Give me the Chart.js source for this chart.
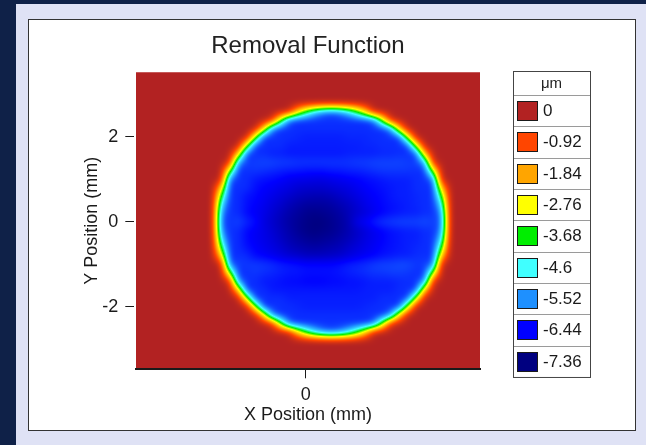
<!DOCTYPE html>
<html>
  <head>
    <meta charset="UTF-8" />
    <title>Removal Function</title>
    <script src="https://cdn.jsdelivr.net/npm/chart.js"></script>
    <style>
      body {
        margin: 0;
        width: 646px;
        height: 445px;
        overflow: hidden;
        background-color: #0f2148;
        font-family: Arial, "Liberation Sans", sans-serif;
      }
      .panel {
        position: absolute;
        left: 16px;
        top: 4px;
        right: 0;
        bottom: 0;
        background-color: #dfe2f5;
      }
      .card {
        position: absolute;
        left: 28px;
        top: 19px;
        width: 606px;
        height: 410px;
        background-color: #ffffff;
        border: 1px solid #333;
      }
      canvas {
        position: absolute;
        left: 0;
        top: 0;
      }
    </style>
  </head>
  <body>
    <div class="panel"></div>
    <div class="card"></div>
    <canvas id="chart" width="646" height="445"></canvas>

    <script>
      const FONT = "Arial, 'Liberation Sans', sans-serif";

      // sample positions of the measured surface (mm)
      const xNodes = [-2.4, -2.2, -2.0, -1.8, -1.6, -1.4, -1.2, -1.0, -0.8, -0.6, -0.4, -0.2, 0, 0.2, 0.4, 0.6,
        0.8, 1.0, 1.2, 1.4, 1.6, 1.8, 2.0, 2.2, 2.4, 2.6, 2.8, 3.0, 3.2, 3.4, 3.6];
      const yNodes = [3.0, 2.8, 2.6, 2.4, 2.2, 2.0, 1.8, 1.6, 1.4, 1.2, 1.0, 0.8, 0.6, 0.4, 0.2, 0,
        -0.2, -0.4, -0.6, -0.8, -1.0, -1.2, -1.4, -1.6, -1.8, -2.0, -2.2, -2.4, -2.6, -2.8, -3.0];

      // removal depth (um), one row per yNodes entry, one column per xNodes entry
      const depth = [
        [0,0,0,0,0,0,0,0,0,0,0,0,0,0,0,0,0,0,0,0,0,0,0,0,0,0,0,0,0,0,0],
        [0,0,0,0,0,0,0,0,0,0,0,0,0,0,0,0,0,0,0,0,0,0,0,0,0,0,0,0,0,0,0],
        [0,0,0,0,0,0,0,0,0,0,-0.15,-2.15,-3.75,-4.9,-5.6,-5.85,-5.6,-4.9,-3.75,-2.15,-0.15,0,0,0,0,0,0,0,0,0,0],
        [0,0,0,0,0,0,0,0,-0.35,-3.3,-5.85,-6.15,-6.15,-6.15,-6.15,-6.15,-6.15,-6.15,-6.15,-6.15,-5.85,-3.3,-0.35,0,0,0,0,0,0,0,0],
        [0,0,0,0,0,0,0,-2.15,-5.6,-6.15,-6.15,-6.15,-6.15,-6.15,-6.15,-6.15,-6.15,-6.15,-6.15,-6.15,-6.15,-6.15,-5.6,-2.15,0,0,0,0,0,0,0],
        [0,0,0,0,0,0,-3.05,-6.15,-6.15,-6.15,-6.15,-6.2,-6.25,-6.25,-6.25,-6.25,-6.25,-6.2,-6.2,-6.2,-6.15,-6.15,-6.15,-6.15,-3.05,0,0,0,0,0,0],
        [0,0,0,0,0,-3.05,-6.15,-6.15,-6.15,-6.15,-6.25,-6.25,-6.25,-6.25,-6.25,-6.25,-6.25,-6.25,-6.25,-6.2,-6.2,-6.15,-6.15,-6.15,-6.15,-3.05,0,0,0,0,0],
        [0,0,0,0,-2.15,-6.15,-6.15,-6.15,-6.25,-6.25,-6.3,-6.3,-6.3,-6.3,-6.3,-6.3,-6.3,-6.25,-6.25,-6.25,-6.25,-6.2,-6.2,-6.15,-6.15,-6.15,-2.15,0,0,0,0],
        [0,0,0,-0.35,-5.5,-6.05,-6.05,-6.0,-6.0,-6.05,-6.05,-6.1,-6.1,-6.1,-6.1,-6.1,-6.1,-6.1,-6.05,-6.05,-6.0,-6.0,-6.0,-6.0,-6.05,-6.05,-5.5,-0.35,0,0,0],
        [0,0,0,-3.3,-6.15,-6.15,-6.1,-6.15,-6.2,-6.25,-6.3,-6.3,-6.35,-6.35,-6.35,-6.3,-6.3,-6.25,-6.25,-6.2,-6.15,-6.1,-6.1,-6.1,-6.1,-6.15,-6.15,-3.3,0,0,0],
        [0,0,-0.15,-5.85,-6.15,-6.15,-6.3,-6.35,-6.4,-6.45,-6.55,-6.6,-6.6,-6.65,-6.65,-6.6,-6.55,-6.5,-6.45,-6.4,-6.35,-6.3,-6.25,-6.25,-6.25,-6.15,-6.15,-5.85,-0.15,0,0],
        [0,0,-2.15,-6.15,-6.15,-6.15,-6.35,-6.45,-6.5,-6.6,-6.65,-6.75,-6.8,-6.8,-6.8,-6.75,-6.7,-6.65,-6.55,-6.45,-6.4,-6.35,-6.3,-6.25,-6.25,-6.15,-6.15,-6.15,-2.15,0,0],
        [0,0,-3.75,-6.15,-6.15,-6.35,-6.4,-6.5,-6.6,-6.7,-6.8,-6.9,-6.95,-7.0,-7.0,-6.95,-6.85,-6.75,-6.65,-6.55,-6.45,-6.4,-6.3,-6.25,-6.25,-6.2,-6.15,-6.15,-3.75,0,0],
        [0,0,-4.9,-6.15,-6.15,-6.35,-6.45,-6.55,-6.7,-6.8,-6.95,-7.05,-7.15,-7.15,-7.15,-7.1,-7.0,-6.9,-6.75,-6.6,-6.5,-6.4,-6.35,-6.3,-6.25,-6.2,-6.15,-6.15,-4.9,0,0],
        [0,0,-5.6,-6.15,-6.15,-6.4,-6.5,-6.6,-6.75,-6.9,-7.05,-7.15,-7.25,-7.3,-7.25,-7.2,-7.1,-6.95,-6.8,-6.7,-6.55,-6.45,-6.35,-6.3,-6.25,-6.25,-6.15,-6.15,-5.6,0,0],
        [0,0,-5.85,-6.15,-6.0,-6.2,-6.35,-6.65,-6.8,-6.95,-7.1,-7.2,-7.3,-7.35,-7.35,-7.25,-7.15,-7.0,-6.6,-6.45,-6.25,-6.1,-6.05,-6.0,-6.0,-6.0,-5.95,-6.05,-5.85,0,0],
        [0,0,-5.6,-6.15,-6.15,-6.4,-6.5,-6.6,-6.75,-6.9,-7.05,-7.2,-7.3,-7.35,-7.3,-7.25,-7.15,-7.0,-6.85,-6.7,-6.55,-6.45,-6.35,-6.3,-6.25,-6.25,-6.15,-6.15,-5.6,0,0],
        [0,0,-4.9,-6.15,-6.15,-6.4,-6.5,-6.6,-6.7,-6.85,-7.0,-7.1,-7.2,-7.25,-7.2,-7.15,-7.05,-6.95,-6.8,-6.65,-6.55,-6.45,-6.35,-6.3,-6.25,-6.25,-6.15,-6.15,-4.9,0,0],
        [0,0,-3.75,-6.15,-6.15,-6.35,-6.45,-6.55,-6.65,-6.75,-6.9,-7.0,-7.05,-7.1,-7.05,-7.0,-6.95,-6.8,-6.7,-6.6,-6.5,-6.4,-6.35,-6.3,-6.25,-6.2,-6.15,-6.15,-3.75,0,0],
        [0,0,-2.15,-6.15,-6.15,-6.15,-6.4,-6.45,-6.55,-6.65,-6.75,-6.8,-6.9,-6.9,-6.9,-6.85,-6.8,-6.7,-6.6,-6.5,-6.45,-6.35,-6.3,-6.25,-6.25,-6.15,-6.15,-6.15,-2.15,0,0],
        [0,0,-0.15,-5.85,-6.05,-6.1,-6.05,-6.1,-6.15,-6.25,-6.3,-6.35,-6.4,-6.4,-6.4,-6.4,-6.35,-6.25,-6.2,-6.15,-6.05,-6.0,-6.0,-5.95,-5.95,-6.1,-6.05,-5.85,-0.15,0,0],
        [0,0,0,-3.3,-6.15,-6.15,-6.1,-6.15,-6.2,-6.25,-6.3,-6.3,-6.35,-6.35,-6.35,-6.35,-6.3,-6.25,-6.2,-6.15,-6.1,-6.1,-6.05,-6.05,-6.1,-6.15,-6.15,-3.3,0,0,0],
        [0,0,0,-0.35,-5.6,-6.15,-6.15,-6.3,-6.3,-6.35,-6.4,-6.4,-6.45,-6.45,-6.45,-6.4,-6.4,-6.35,-6.35,-6.3,-6.25,-6.25,-6.25,-6.2,-6.15,-6.15,-5.6,-0.35,0,0,0],
        [0,0,0,0,-2.15,-6.15,-6.15,-6.15,-6.3,-6.3,-6.3,-6.3,-6.3,-6.3,-6.3,-6.3,-6.3,-6.3,-6.3,-6.25,-6.25,-6.25,-6.25,-6.15,-6.15,-6.15,-2.15,0,0,0,0],
        [0,0,0,0,0,-3.05,-6.15,-6.15,-6.15,-6.15,-6.25,-6.25,-6.25,-6.25,-6.25,-6.25,-6.25,-6.25,-6.25,-6.25,-6.25,-6.15,-6.15,-6.15,-6.15,-3.05,0,0,0,0,0],
        [0,0,0,0,0,0,-3.05,-6.15,-6.15,-6.15,-6.15,-6.2,-6.25,-6.25,-6.25,-6.25,-6.25,-6.25,-6.25,-6.2,-6.15,-6.15,-6.15,-6.15,-3.05,0,0,0,0,0,0],
        [0,0,0,0,0,0,0,-2.15,-5.6,-6.15,-6.15,-6.15,-6.15,-6.15,-6.15,-6.15,-6.15,-6.15,-6.15,-6.15,-6.15,-6.15,-5.6,-2.15,0,0,0,0,0,0,0],
        [0,0,0,0,0,0,0,0,-0.35,-3.3,-5.85,-6.15,-6.15,-6.15,-6.15,-6.15,-6.15,-6.15,-6.15,-6.15,-5.85,-3.3,-0.35,0,0,0,0,0,0,0,0],
        [0,0,0,0,0,0,0,0,0,0,-0.15,-2.15,-3.75,-4.9,-5.6,-5.85,-5.6,-4.9,-3.75,-2.15,-0.15,0,0,0,0,0,0,0,0,0,0],
        [0,0,0,0,0,0,0,0,0,0,0,0,0,0,0,0,0,0,0,0,0,0,0,0,0,0,0,0,0,0,0],
        [0,0,0,0,0,0,0,0,0,0,0,0,0,0,0,0,0,0,0,0,0,0,0,0,0,0,0,0,0,0,0],
      ];

      // colour scale
      const legendTitle = "μm";
      const legendLevels = [0, -0.92, -1.84, -2.76, -3.68, -4.6, -5.52, -6.44, -7.36];
      const legendColors = ["#b22222", "#ff4500", "#ffa500", "#ffff00", "#00ee00", "#40ffff", "#1e90ff", "#0000ff", "#000080"];

      const xTicks = [0];
      const yTicks = [-2, 0, 2];

      const levelRgb = legendColors.map((c) => [
        parseInt(c.slice(1, 3), 16),
        parseInt(c.slice(3, 5), 16),
        parseInt(c.slice(5, 7), 16),
      ]);

      function depthColor(v) {
        const n = legendLevels.length;
        if (v >= legendLevels[0]) return levelRgb[0];
        if (v <= legendLevels[n - 1]) return levelRgb[n - 1];
        let k = 0;
        while (v < legendLevels[k + 1]) k++;
        const t = (legendLevels[k] - v) / (legendLevels[k] - legendLevels[k + 1]);
        const a = levelRgb[k], b = levelRgb[k + 1];
        return [a[0] + (b[0] - a[0]) * t, a[1] + (b[1] - a[1]) * t, a[2] + (b[2] - a[2]) * t];
      }

      function clamp(v, lo, hi) {
        return Math.min(Math.max(v, lo), hi);
      }

      // cubic B-spline weights for the four neighbouring samples
      function splineWeights(t) {
        const t2 = t * t, t3 = t2 * t, u = 1 - t;
        return [(u * u * u) / 6, (3 * t3 - 6 * t2 + 4) / 6, (-3 * t3 + 3 * t2 + 3 * t + 1) / 6, t3 / 6];
      }

      // shaded surface, painted under the axes
      const heatmapPlugin = {
        id: "heatmap",
        beforeDraw(chart) {
          const { ctx, chartArea: area, scales } = chart;
          const left = Math.floor(area.left);
          const top = Math.floor(area.top);
          const w = Math.ceil(area.right) - left;
          const h = Math.ceil(area.bottom) - top;
          const off = document.createElement("canvas");
          off.width = w;
          off.height = h;
          const octx = off.getContext("2d");
          const img = octx.createImageData(w, h);
          const nx = xNodes.length;
          const ny = yNodes.length;
          const stepX = xNodes[1] - xNodes[0];
          const stepY = yNodes[0] - yNodes[1];

          const cols = [];
          for (let px = 0; px < w; px++) {
            const xv = scales.x.getValueForPixel(left + px + 0.5);
            const fx = clamp((xv - xNodes[0]) / stepX, 0, nx - 1);
            const c0 = Math.min(Math.floor(fx), nx - 2);
            cols.push({
              idx: [c0 - 1, c0, c0 + 1, c0 + 2].map((c) => clamp(c, 0, nx - 1)),
              wt: splineWeights(fx - c0),
            });
          }

          for (let py = 0; py < h; py++) {
            const yv = scales.y.getValueForPixel(top + py + 0.5);
            const fy = clamp((yNodes[0] - yv) / stepY, 0, ny - 1);
            const r0 = Math.min(Math.floor(fy), ny - 2);
            const rows = [r0 - 1, r0, r0 + 1, r0 + 2].map((r) => clamp(r, 0, ny - 1));
            const wy = splineWeights(fy - r0);
            for (let px = 0; px < w; px++) {
              const { idx, wt } = cols[px];
              let v = 0;
              for (let m = 0; m < 4; m++) {
                const rowVals = depth[rows[m]];
                v += wy[m] * (wt[0] * rowVals[idx[0]] + wt[1] * rowVals[idx[1]] + wt[2] * rowVals[idx[2]] + wt[3] * rowVals[idx[3]]);
              }
              const rgb = depthColor(v);
              const k = (py * w + px) * 4;
              img.data[k] = rgb[0];
              img.data[k + 1] = rgb[1];
              img.data[k + 2] = rgb[2];
              img.data[k + 3] = 255;
            }
          }
          octx.putImageData(img, 0, 0);

          ctx.save();
          ctx.beginPath();
          ctx.rect(area.left, area.top, area.right - area.left, area.bottom - area.top);
          ctx.clip();
          ctx.drawImage(off, left, top);
          ctx.restore();
        },
      };

      // boxed colour key on the right
      const legendPlugin = {
        id: "depthLegend",
        afterDraw(chart, args, opts) {
          const ctx = chart.ctx;
          const { x, y, width, head, row } = opts;
          const n = legendLevels.length;
          const bottom = y + head + row * n;

          ctx.save();
          ctx.fillStyle = "#ffffff";
          ctx.fillRect(x, y, width, bottom - y);

          ctx.fillStyle = "#222";
          ctx.font = "15px " + FONT;
          ctx.textAlign = "center";
          ctx.textBaseline = "middle";
          ctx.fillText(legendTitle, x + width / 2, y + head / 2 + 1);

          ctx.strokeStyle = "#9a9a9a";
          ctx.lineWidth = 1;
          for (let k = 0; k < n; k++) {
            const ly = Math.round(y + head + row * k) + 0.5;
            ctx.beginPath();
            ctx.moveTo(x, ly);
            ctx.lineTo(x + width, ly);
            ctx.stroke();
          }

          ctx.font = "17px " + FONT;
          ctx.textAlign = "left";
          legendLevels.forEach((level, k) => {
            const top = Math.round(y + head + row * k);
            ctx.fillStyle = legendColors[k];
            ctx.fillRect(x + 4, top + 6, 20, 19);
            ctx.strokeStyle = "#1a1a1a";
            ctx.strokeRect(x + 4.5, top + 6.5, 20, 19);
            ctx.fillStyle = "#1a1a1a";
            ctx.fillText(String(level), x + 30, top + row / 2 + 1);
          });

          ctx.strokeStyle = "#444";
          ctx.strokeRect(x + 0.5, y + 0.5, width, bottom - y);
          ctx.restore();
        },
      };

      const surface = [];
      depth.forEach((rowVals, r) => {
        rowVals.forEach((v, c) => surface.push({ x: xNodes[c], y: yNodes[r], v: v }));
      });

      const chart = new Chart(document.getElementById("chart"), {
        type: "scatter",
        data: {
          datasets: [{ label: "Removal", data: surface, pointRadius: 0 }],
        },
        options: {
          responsive: false,
          animation: false,
          events: [],
          layout: { padding: { left: 70, right: 166, top: 20, bottom: 15 } },
          plugins: {
            legend: { display: false },
            tooltip: { enabled: false },
            title: {
              display: true,
              text: "Removal Function",
              fullSize: false,
              color: "#222",
              font: { family: FONT, size: 24, weight: "normal" },
              padding: { top: 12.3, bottom: 11.2 },
            },
            depthLegend: { x: 513, y: 71, width: 77, head: 24, row: 31.33 },
          },
          scales: {
            x: {
              type: "linear",
              min: -4.0,
              max: 4.1,
              afterBuildTicks: (scale) => {
                scale.ticks = xTicks.map((v) => ({ value: v }));
              },
              afterFit: (scale) => {
                scale.height = 60.7;
              },
              ticks: { color: "#1a1a1a", font: { family: FONT, size: 18 }, padding: 6, maxRotation: 0 },
              grid: { drawOnChartArea: false, drawTicks: true, tickLength: 9, tickColor: "#1a1a1a", tickWidth: 1 },
              border: { display: true, color: "#1a1a1a", width: 2 },
              title: {
                display: true,
                text: "X Position (mm)",
                color: "#1a1a1a",
                font: { family: FONT, size: 18 },
                padding: { top: 0, bottom: 4.5 },
              },
            },
            y: {
              type: "linear",
              min: -3.47,
              max: 3.52,
              afterBuildTicks: (scale) => {
                scale.ticks = yTicks.map((v) => ({ value: v }));
              },
              afterFit: (scale) => {
                scale.width = 66;
              },
              ticks: { color: "#1a1a1a", font: { family: FONT, size: 18 }, padding: 7 },
              grid: { drawOnChartArea: false, drawTicks: true, tickLength: 10.7, tickColor: "#1a1a1a", tickWidth: 1 },
              border: { display: true, color: "rgba(0,0,0,0)", width: 5 },
              title: {
                display: true,
                text: "Y Position (mm)",
                color: "#1a1a1a",
                font: { family: FONT, size: 18 },
                padding: { top: 11.6, bottom: 0 },
              },
            },
          },
        },
        plugins: [heatmapPlugin, legendPlugin],
      });
    </script>
  </body>
</html>
